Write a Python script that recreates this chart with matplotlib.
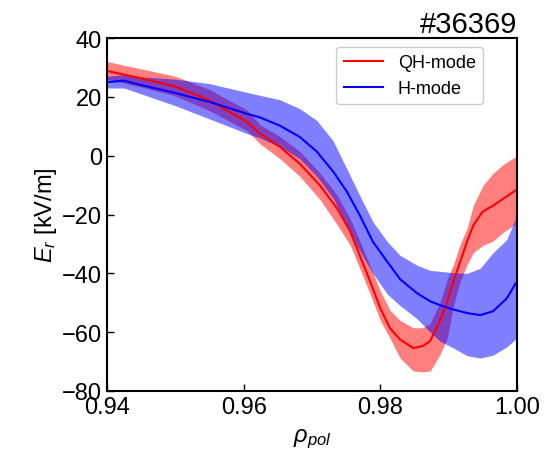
import matplotlib
matplotlib.use("Agg")
import matplotlib.pyplot as plt

plt.rcParams['font.family'] = ['Liberation Sans', 'DejaVu Sans']
plt.rcParams['mathtext.fontset'] = 'custom'
plt.rcParams['mathtext.rm'] = 'Liberation Sans'
plt.rcParams['mathtext.it'] = 'Liberation Sans:italic'

# QH-mode (red): rho_pol, mean E_r, upper and lower band edges
rho_qh = [0.940, 0.945, 0.950, 0.955, 0.9605, 0.9624, 0.9653, 0.9682, 0.9712,
          0.9737, 0.9756, 0.9770, 0.9785, 0.9800, 0.9814, 0.9829, 0.9848,
          0.9862, 0.9873, 0.9887, 0.9898, 0.9907, 0.9917, 0.9927, 0.9936,
          0.9950, 0.9965, 0.9980, 1.000]
er_qh = [28.8, 26.3, 23.5, 18.8, 11.5, 7.5, 3.0, -2.7, -10.2,
         -18.0, -25.8, -33.9, -42.7, -51.9, -58.6, -62.5, -65.4,
         -64.7, -63.0, -56.3, -49.5, -42.7, -36.0, -29.2, -23.7,
         -19.0, -17.0, -14.6, -11.5]
qh_upper = [32.0, 29.5, 27.0, 22.5, 15.5, 10.5, 6.5, 1.5, -6.0,
            -13.5, -21.5, -29.0, -37.5, -46.0, -52.5, -56.0, -58.5,
            -58.5, -57.0, -50.0, -42.0, -37.0, -30.0, -24.7, -17.0,
            -10.2, -6.0, -3.0, 0.0]
qh_lower = [26.0, 23.3, 20.3, 15.3, 8.5, 4.0, -1.0, -7.0, -15.0,
            -23.5, -30.5, -38.3, -47.0, -56.0, -62.0, -68.8, -73.2,
            -73.5, -73.2, -67.8, -62.0, -51.0, -42.7, -37.0, -33.0,
            -30.5, -29.0, -26.0, -23.0]

# H-mode (blue)
rho_h = [0.940, 0.9425, 0.945, 0.950, 0.955, 0.9605, 0.9624, 0.9653, 0.9682,
         0.9707, 0.9731, 0.9751, 0.9770, 0.9789, 0.9810, 0.9829, 0.9854,
         0.9873, 0.9887, 0.9907, 0.9927, 0.9946, 0.9965, 0.9985, 1.000]
er_h = [25.0, 25.5, 24.0, 21.3, 18.3, 14.2, 13.0, 10.2, 6.4,
        1.4, -5.4, -12.2, -20.3, -29.2, -36.0, -42.0, -46.8,
        -49.5, -50.8, -52.3, -53.5, -54.2, -52.9, -48.5, -42.7]
h_upper = [27.0, 27.5, 26.8, 26.0, 24.5, 21.5, 20.5, 19.0, 16.0,
           12.0, 5.0, -4.5, -13.6, -22.4, -29.2, -33.9, -37.3,
           -39.0, -39.3, -39.8, -40.0, -38.3, -33.0, -28.5, -20.3]
h_lower = [23.0, 23.0, 21.0, 17.0, 12.5, 7.5, 6.0, 3.0, -1.0,
           -7.0, -14.5, -23.7, -32.5, -40.0, -47.0, -51.0, -55.5,
           -60.0, -63.0, -65.4, -68.0, -68.8, -67.8, -65.0, -62.0]

xticks = [0.94, 0.96, 0.98, 1.00]
yticks = [-80, -60, -40, -20, 0, 20, 40]

fig = plt.figure(figsize=(5.49, 4.52), dpi=100)
ax = fig.add_axes([107/549, 60/452, 410/549, 353/452])

ax.fill_between(rho_qh, qh_lower, qh_upper, color='red', alpha=0.5, linewidth=0)
ax.fill_between(rho_h, h_lower, h_upper, color='blue', alpha=0.5, linewidth=0)
ax.plot(rho_qh, er_qh, color='red', lw=1.5, label='QH-mode')
ax.plot(rho_h, er_h, color='blue', lw=1.5, label='H-mode')

ax.set_xlim(0.94, 1.00)
ax.set_ylim(-80, 40)
ax.set_xticks(xticks)
ax.set_xticklabels([f"{v:.2f}" for v in xticks])
ax.set_yticks(yticks)
ax.tick_params(direction='in', length=5, width=1, labelsize=17)
for s in ax.spines.values():
    s.set_linewidth(1.5)

ax.set_xlabel(r'$\rho_{pol}$', fontsize=17, labelpad=6)
ax.set_ylabel(r'$E_r$ [kV/m]', fontsize=17, labelpad=2)
ax.set_title('#36369', loc='right', fontsize=21, pad=4)

ax.legend(loc='upper right', bbox_to_anchor=(0.917, 0.975), borderaxespad=0,
          fontsize=13, frameon=True, fancybox=True, framealpha=1.0,
          edgecolor='#cccccc', handlelength=2.2)

fig.savefig('out.png', dpi=100)
